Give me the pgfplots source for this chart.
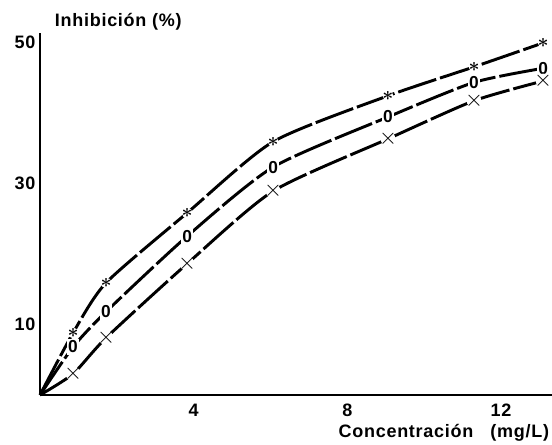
\documentclass[border=0pt]{standalone}
\usepackage{pgfplots}
\pgfplotsset{compat=1.18}
\usepackage{pgfplotstable}
\usepackage{fontspec}
\setmainfont{Liberation Sans}[LetterSpace=4]

% marcas con fondo blanco (la linea se corta alrededor)
\pgfdeclareplotmark{estrella}{%
  \pgfpathcircle{\pgfpointorigin}{4pt}%
  \pgfsetfillcolor{white}\pgfusepath{fill}%
  \pgftext{\fontsize{15}{15}\selectfont\boldmath$\ast$}}
\pgfdeclareplotmark{cero}{%
  \pgfpathrectangle{\pgfpoint{-4.5pt}{-6pt}}{\pgfpoint{9pt}{12pt}}%
  \pgfsetfillcolor{white}\pgfusepath{fill}%
  \pgftext{\bfseries\fontsize{13}{13}\selectfont 0}}
\pgfdeclareplotmark{cruz}{%
  \pgfpathcircle{\pgfpointorigin}{5.5pt}%
  \pgfsetfillcolor{white}\pgfusepath{fill}%
  \pgftext{\fontsize{19}{19}\selectfont$\times$}}

% lecturas de la figura (x en mg/L, y en %)
\pgfplotstableread{
x     star   cero   cruz
0     0      0      0
0.86  8.8    6.8    3.0
1.72  15.9   11.8   8.1
3.83  25.8   22.5   18.6
6.07  35.9   32.3   28.9
9.06  42.4   39.4   36.3
11.3  46.5   44.3   41.7
13.1  49.9   46.3   44.5
}\datos

\begin{document}
\begin{tikzpicture}
\begin{axis}[
    scale only axis,
    width=384pt, height=271.5pt,
    xmin=0, xmax=13.33, ymin=0, ymax=51.3,
    axis x line=bottom, axis y line=left,
    axis line style={-, line width=2pt},
    xtick={4,8,12}, ytick={10,30,50},
    major tick length=0pt,
    tick label style={font=\bfseries\fontsize{13.5}{15}\selectfont},
    xticklabel style={yshift=-3pt},
    /pgf/number format/assume math mode=true,
    clip=false,
    xlabel={Concentración\ \ \ (mg/L)},
    ylabel={Inhibición (\%)},
    every axis x label/.style={at={(rel axis cs:1,0)}, anchor=north east,
        inner sep=0pt, yshift=-22pt, xshift=-2pt,
        font=\bfseries\fontsize{13.5}{15}\selectfont},
    every axis y label/.style={at={(rel axis cs:0,1)}, anchor=west,
        inner sep=0pt, xshift=11pt, yshift=8.5pt,
        font=\bfseries\fontsize{13.5}{15}\selectfont},
    curva/.style={black, line width=2.2pt,
        dash pattern=on 30pt off 3pt, smooth, tension=0.4,
        mark indices={2,3,4,5,6,7,8},
        mark options={solid, line width=0.4pt}},
]
\addplot[curva, mark=estrella] table[x=x, y=star] {\datos};
\addplot[curva, mark=cero] table[x=x, y=cero] {\datos};
\addplot[curva, mark=cruz] table[x=x, y=cruz] {\datos};
\end{axis}
\pgfresetboundingbox
\path (current axis.south west) ++(-30pt,-36.75pt) rectangle ([yshift=24.75pt]current axis.north east);
\end{tikzpicture}
\end{document}
